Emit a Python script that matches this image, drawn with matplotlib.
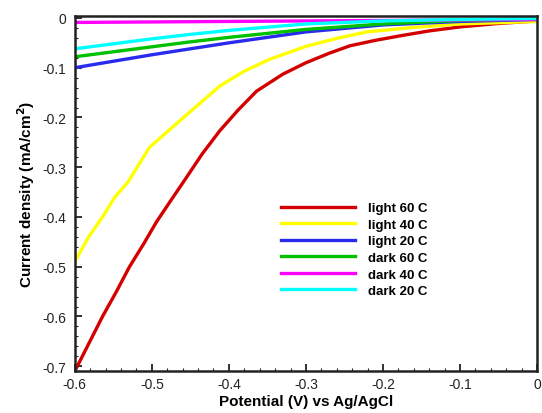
import matplotlib
matplotlib.use("Agg")
import matplotlib.pyplot as plt
from matplotlib.ticker import AutoMinorLocator, MultipleLocator

plt.rcParams['axes.unicode_minus'] = False
plt.rcParams['font.family'] = ['Liberation Sans', 'DejaVu Sans']

# Data: potential (V) vs current density (mA/cm^2)
red_x = [-0.6, -0.582, -0.564, -0.546, -0.529, -0.511, -0.494, -0.475, -0.457, -0.435, -0.412, -0.388,
         -0.364, -0.33, -0.3, -0.27, -0.243, -0.21, -0.178, -0.14, -0.1, -0.05, 0.0]
red_y = [-0.71, -0.655, -0.60, -0.55, -0.50, -0.455, -0.41, -0.366, -0.325, -0.274, -0.227, -0.185,
         -0.147, -0.113, -0.09, -0.071, -0.056, -0.045, -0.036, -0.026, -0.018, -0.011, -0.006]

yel_x = [-0.6, -0.582, -0.564, -0.548, -0.531, -0.503, -0.464, -0.412, -0.38, -0.347, -0.3, -0.26,
         -0.221, -0.16, -0.1, 0.0]
yel_y = [-0.49, -0.44, -0.40, -0.36, -0.33, -0.26, -0.207, -0.137, -0.107, -0.083, -0.057, -0.041,
         -0.028, -0.019, -0.012, -0.007]

blu_x = [-0.6, -0.5, -0.45, -0.4, -0.3, -0.2, -0.1, 0.0]
blu_y = [-0.10, -0.074, -0.062, -0.05, -0.028, -0.014, -0.007, -0.003]

grn_x = [-0.6, -0.5, -0.45, -0.4, -0.3, -0.2, -0.1, 0.0]
grn_y = [-0.078, -0.058, -0.048, -0.039, -0.023, -0.012, -0.005, -0.002]

mag_x = [-0.6, -0.3, 0.0]
mag_y = [-0.009, -0.006, -0.003]

cyn_x = [-0.6, -0.5, -0.45, -0.4, -0.3, -0.2, -0.1, 0.0]
cyn_y = [-0.062, -0.042, -0.033, -0.025, -0.012, -0.006, -0.003, -0.001]

fig = plt.figure(figsize=(5.42, 4.14), dpi=100)
ax = fig.add_axes([0.138, 0.101, 0.853, 0.858])

lw = 2.4
ax.plot(red_x, red_y, color='#d40000', lw=lw, label='light 60 C')
ax.plot(yel_x, yel_y, color='#ffff00', lw=lw, label='light 40 C')
ax.plot(blu_x, blu_y, color='#2a2aee', lw=lw, label='light 20 C')
ax.plot(grn_x, grn_y, color='#00c000', lw=lw, label='dark 60 C')
ax.plot(mag_x, mag_y, color='#ff00ff', lw=lw, label='dark 40 C')
ax.plot(cyn_x, cyn_y, color='#00ffff', lw=lw, label='dark 20 C')

ax.set_xlim(-0.6, 0.0)
ax.set_ylim(-0.71, 0.004)
ax.xaxis.set_minor_locator(AutoMinorLocator(5))
ax.yaxis.set_minor_locator(AutoMinorLocator(5))
ax.set_xticks([-0.6, -0.5, -0.4, -0.3, -0.2, -0.1, 0.0])
ax.set_xticklabels(['-0.6', '-0.5', '-0.4', '-0.3', '-0.2', '-0.1', '0'])
ax.set_yticks([0.0, -0.1, -0.2, -0.3, -0.4, -0.5, -0.6, -0.7])
ax.set_yticklabels(['0', '-0.1', '-0.2', '-0.3', '-0.4', '-0.5', '-0.6', '-0.7'])
ax.xaxis.set_minor_locator(AutoMinorLocator(5))
ax.yaxis.set_minor_locator(AutoMinorLocator(5))
ax.tick_params(which='both', direction='in', labelsize=10, colors='#222222')
ax.tick_params(which='major', length=5, width=1.3)
ax.tick_params(axis='x', which='major', pad=4)
ax.tick_params(axis='y', which='major', pad=6)
ax.tick_params(which='minor', length=2.5, width=0.8)
for s in ax.spines.values():
    s.set_linewidth(1.8)
    s.set_color('#222222')

ax.set_xlabel('Potential (V) vs Ag/AgCl', fontsize=11, fontweight='bold', labelpad=2)
ax.set_ylabel('Current density (mA/cm$^\\mathbf{2}$)', fontsize=11, fontweight='bold', labelpad=4)

ax.legend(loc='upper left', bbox_to_anchor=(0.42, 0.51), frameon=False,
          handlelength=5.6, handletextpad=1.0, labelspacing=0.33,
          prop={'weight': 'bold', 'size': 9.5})

fig.savefig('out.png', dpi=100)
